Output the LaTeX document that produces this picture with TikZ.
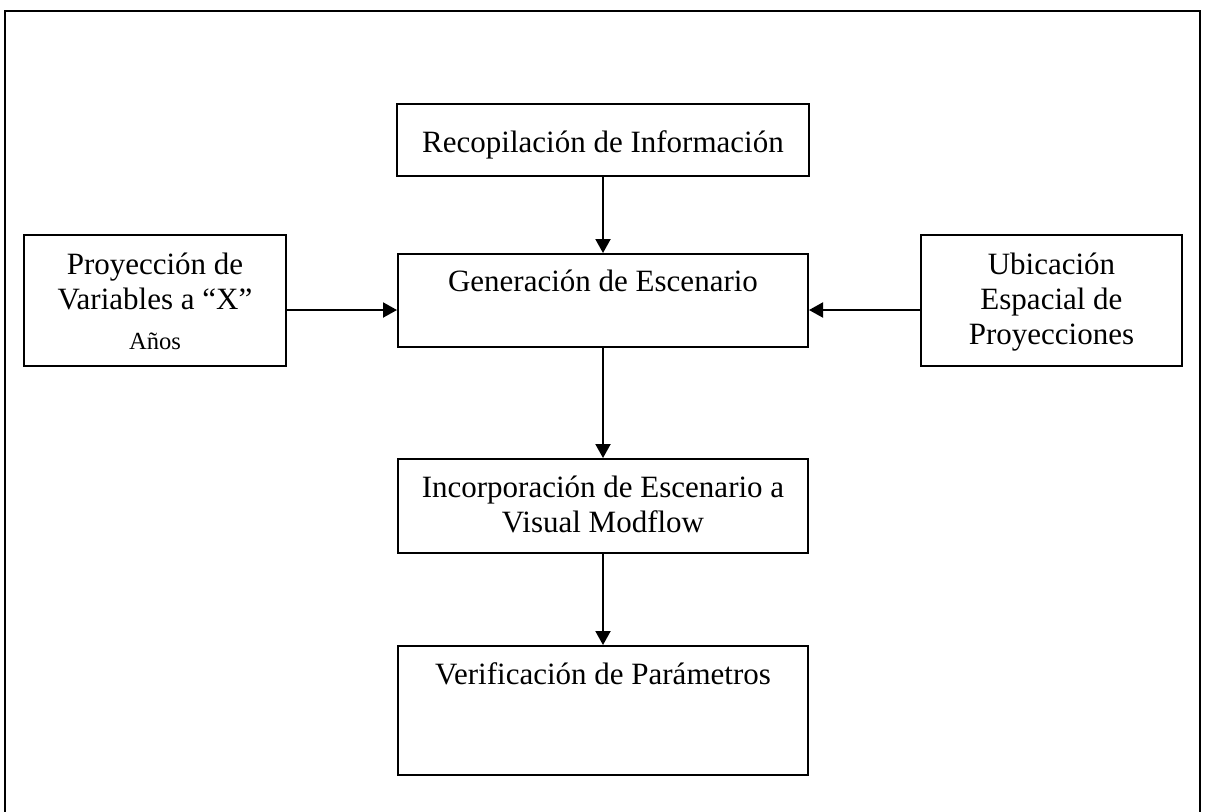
\documentclass[tikz,border=0pt]{standalone}
\usepackage{fontspec}
\setmainfont{Liberation Serif}
\usetikzlibrary{arrows.meta}

\begin{document}
\begin{tikzpicture}[x=0.5pt, y=-0.5pt, line width=1pt,
    box/.style={draw, rectangle, inner sep=0pt},
    txt/.style={anchor=base, align=center, inner sep=0pt,
        font=\fontsize{15.5}{17.5}\selectfont},
    arr/.style={-{Triangle[length=7pt,width=7.5pt]}}]

	\useasboundingbox (0,0) rectangle (1207,811);

	% outer frame
	\draw (5,11) rectangle (1200,830);

	% boxes
	\node[box, minimum width=206pt, minimum height=36pt] (rec) at (603,140) {};
	\node[box, minimum width=205pt, minimum height=46.5pt] (gen) at (603,300.5) {};
	\node[box, minimum width=131pt, minimum height=65.5pt] (proj) at (155,300.5) {};
	\node[box, minimum width=130.5pt, minimum height=65.5pt] (ubic) at (1051.5,300.5) {};
	\node[box, minimum width=205pt, minimum height=47pt] (inc) at (603,506) {};
	\node[box, minimum width=205pt, minimum height=64.5pt] (ver) at (603,710.5) {};

	% texts (base = last line)
	\node[txt] (rectxt) at ([yshift=-24.5pt]rec.north) {Recopilación de Información};
	\node[txt] (gentxt) at ([yshift=-19pt]gen.north) {Generación de Escenario};
	\node[txt] (projtxt) at ([yshift=-57.5pt]proj.north)
	    {Proyección de\\Variables a “X”\\[2.5pt]{\fontsize{12.3}{14}\selectfont Años}};
	\node[txt] (ubictxt) at ([yshift=-55pt]ubic.north)
	    {Ubicación\\Espacial de\\Proyecciones};
	\node[txt] (inctxt) at ([yshift=-37pt]inc.north)
	    {Incorporación de Escenario a\\Visual Modflow};
	\node[txt] (vertxt) at ([yshift=-19.5pt]ver.north) {Verificación de Parámetros};

	% arrows
	\draw[arr] (rec) -- (gen);
	\draw[arr] (gen) -- (inc);
	\draw[arr] (inc) -- (ver);
	\draw[arr] ([yshift=-4.75pt]proj.east) -- ([yshift=-4.75pt]gen.west);
	\draw[arr] ([yshift=-4.75pt]ubic.west) -- ([yshift=-4.75pt]gen.east);

\end{tikzpicture}
\end{document}
